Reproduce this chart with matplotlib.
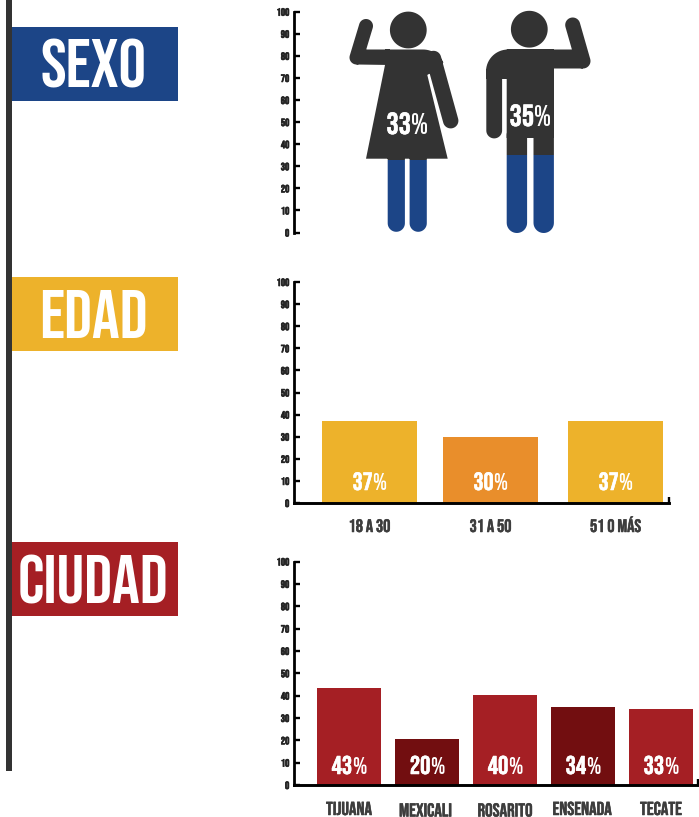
import matplotlib
matplotlib.use('Agg')
import matplotlib.pyplot as plt
import matplotlib.patheffects as pe
import numpy as np
from matplotlib.patches import Rectangle
from matplotlib.path import Path

W, H = 699, 817
HEAD_FONT = ['Bebas Neue', 'Liberation Sans Narrow', 'DejaVu Sans']

# data
sections = ['SEXO', 'EDAD', 'CIUDAD']
sexo_values = [33, 35]
edad_cats = ['18 A 30', '31 A 50', '51 O MÁS']
edad_values = [37, 30, 37]
ciudad_cats = ['TIJUANA', 'MEXICALI', 'ROSARITO', 'ENSENADA', 'TECATE']
ciudad_values = [43.5, 20.5, 40.3, 34.7, 33.8]
ciudad_labels = [43, 20, 40, 34, 33]
y_ticks = list(range(0, 101, 10))

BLUE, DARK = '#1c4587', '#333333'
YELLOW, ORANGE = '#edb22b', '#e98e2b'
RED, DARKRED = '#a51f24', '#720e10'
TEXT = '#3d3d3d'


def ax_px(l, t, r, b):
    # axes placed with image pixels
    ax = fig.add_axes([l/W, 1-b/H, (r-l)/W, (b-t)/H])
    ax.patch.set_alpha(0)
    ax.set_xlim(l, r)
    ax.set_ylim(0, 100)
    for s in ['top', 'right']:
        ax.spines[s].set_visible(False)
    ax.spines['left'].set_linewidth(2.0)
    ax.spines['bottom'].set_linewidth(2.1)
    ax.set_yticks(y_ticks)
    ax.tick_params(axis='y', direction='in', length=4.0, width=1.7, pad=3.4,
                   labelsize=7.6, labelcolor='#222222')
    for lab in ax.get_yticklabels():
        lab.set_family(HEAD_FONT)
        lab.set_path_effects([pe.withStroke(linewidth=0.5, foreground='#222222')])
    return ax


def px_off(n):
    return n*72/100


def value_label(ax, x, y0, base, value, size):
    # digits heavy, percent sign lighter, like the source
    off = size*0.13
    ax.annotate(str(value), xy=(x, 0), xytext=(off, -px_off(base-y0)), textcoords='offset points',
                ha='right', va='baseline', color='white', fontsize=size, family=HEAD_FONT,
                path_effects=[pe.withStroke(linewidth=0.4, foreground='white')], annotation_clip=False)
    ax.annotate('%', xy=(x, 0), xytext=(off-0.2, -px_off(base-y0)), textcoords='offset points',
                ha='left', va='baseline', color='white', fontsize=size*0.95, family=HEAD_FONT,
                annotation_clip=False)


def cat_label(ax, x, y0, base, text, size):
    ax.annotate(text, xy=(x, 0), xytext=(0, -px_off(base-y0)), textcoords='offset points',
                ha='center', va='baseline', color=TEXT, fontsize=size, family=HEAD_FONT,
                path_effects=[pe.withStroke(linewidth=0.35, foreground=TEXT)], annotation_clip=False)


def oriented(pts):
    pts = np.asarray(pts, dtype=float)
    x, y = pts[:, 0], pts[:, 1]
    if np.sum(x*np.roll(y, -1)-np.roll(x, -1)*y) < 0:
        pts = pts[::-1]
    return Path(np.vstack([pts, pts[0]]), closed=True)


def capsule(p, q, r):
    p, q = np.array(p, float), np.array(q, float)
    a = np.arctan2(*(q-p)[::-1])
    t1 = np.linspace(a+np.pi/2, a+3*np.pi/2, 24)
    t2 = np.linspace(a-np.pi/2, a+np.pi/2, 24)
    pts = np.vstack([p+r*np.c_[np.cos(t1), np.sin(t1)], q+r*np.c_[np.cos(t2), np.sin(t2)]])
    return oriented(pts)


def circle(c, r):
    t = np.linspace(0, 2*np.pi, 60, endpoint=False)
    return oriented(np.c_[c[0]+r*np.cos(t), c[1]+r*np.sin(t)])


def woman():
    t = np.linspace(-np.pi/2, -np.pi*25/180, 14)
    shoulder = np.c_[423+22.5*np.cos(t), 72+22.5*np.sin(t)]
    dress = np.vstack([[(385, 65), (385, 49.5)], shoulder,
                       [(432, 72), (427.3, 75), (447.7, 158.7), (366, 158.7)]])
    return Path.make_compound_path(
        circle((408.3, 30), 18.4),
        capsule((366, 26), (356.5, 57.5), 7),
        oriented([(362, 49.5), (390, 49.5), (390, 65), (356.5, 64.5)]),
        capsule((433.5, 58.5), (450.7, 120.7), 7.7),
        oriented(dress),
        capsule((396.3, 150), (396.3, 223.2), 8.6),
        capsule((418.2, 150), (418.2, 223.2), 8.6))


def man():
    t = np.linspace(np.pi, 1.5*np.pi, 16)
    shoulder = np.c_[508+22*np.cos(t), 71.5+22*np.sin(t)]
    return Path.make_compound_path(
        circle((529.3, 29.2), 18.4),
        capsule((572.7, 25), (583, 61), 7.5),
        oriented([(520, 49.5), (573, 49.5), (578, 61), (583, 68.5), (520, 68.5)]),
        oriented(np.vstack([shoulder, [(554, 49.5), (554, 79), (486, 79)]])),
        capsule((494.2, 72), (494.2, 130.5), 7.9),
        oriented([(506.7, 49.5), (554, 49.5), (554, 138), (506.7, 138)]),
        capsule((516.9, 135), (516.9, 222.8), 10.2),
        capsule((543.7, 135), (543.7, 222.8), 10.2))


fig = plt.figure(figsize=(W/100, H/100), dpi=100, facecolor='white')

# overlay in image pixels, for the banners and the figures' outlines
px = fig.add_axes([0, 0, 1, 1])
px.set_xlim(0, W)
px.set_ylim(H, 0)
px.axis('off')
px.add_patch(Rectangle((6, 0), 6, 771, color=DARK, lw=0))
banner_tops = [27, 277, 542]
banner_colors = [BLUE, YELLOW, RED]
banner_base = [87.5, 338, 603]
for name, top, col, base in zip(sections, banner_tops, banner_colors, banner_base):
    px.add_patch(Rectangle((12, top), 166, 74, color=col, lw=0))
    px.text(93.5, base, name, color='white', fontsize=49.5, family=HEAD_FONT, ha='center', va='baseline')

# sexo: figures filled from the bottom up to the value
ax = ax_px(294, 11.7, 600, 232.5)
ax.spines['bottom'].set_visible(False)
ax.set_xticks([])
centers, widths = [404.5, 539], [116, 112]
for x, w, val, shape in zip(centers, widths, sexo_values, [woman(), man()]):
    for b in ax.bar(x, val, width=w, color=BLUE, lw=0):
        b.set_clip_path(shape, px.transData)
        b.set_clip_box(px.bbox)
    # runs a little past 100 so the heads are not cut
    for b in ax.bar(x, 104-val, bottom=val, width=w, color=DARK, lw=0):
        b.set_clip_path(shape, px.transData)
        b.set_clip_box(px.bbox)
ax.set_ylim(0, 100)
value_label(ax, 407, 232.5, 134, sexo_values[0], 22)
value_label(ax, 530, 232.5, 126, sexo_values[1], 22)

# edad
ax = ax_px(294, 282, 669, 503)
x_edad = [369.5, 490.5, 615.5]
ax.bar(x_edad, edad_values, width=95, color=[YELLOW, ORANGE, YELLOW], lw=0)
ax.set_xticks([669])
ax.set_xticklabels([''])
ax.tick_params(axis='x', direction='in', length=4, width=1.7)
for x, c, v in zip(x_edad, edad_cats, edad_values):
    value_label(ax, x, 503, 490, v, 18)
    cat_label(ax, x, 503, 532, c, 13)

# ciudad
ax = ax_px(294, 561.5, 699, 785)
x_ciudad = [349, 427, 505, 583, 661]
ax.bar(x_ciudad, ciudad_values, width=64, color=[RED, DARKRED, RED, DARKRED, RED], lw=0)
ax.set_xticks([698])
ax.set_xticklabels([''])
ax.tick_params(axis='x', direction='in', length=4, width=1.7)
label_x = [349, 425.5, 505, 582, 661]
label_base = [815, 816.5, 816.5, 815, 815]
for x, lx, b, c, v in zip(x_ciudad, label_x, label_base, ciudad_cats, ciudad_labels):
    value_label(ax, x, 785, 774, v, 18.5)
    cat_label(ax, lx, 785, b, c, 13.5)

fig.savefig('out.png', dpi=100)
